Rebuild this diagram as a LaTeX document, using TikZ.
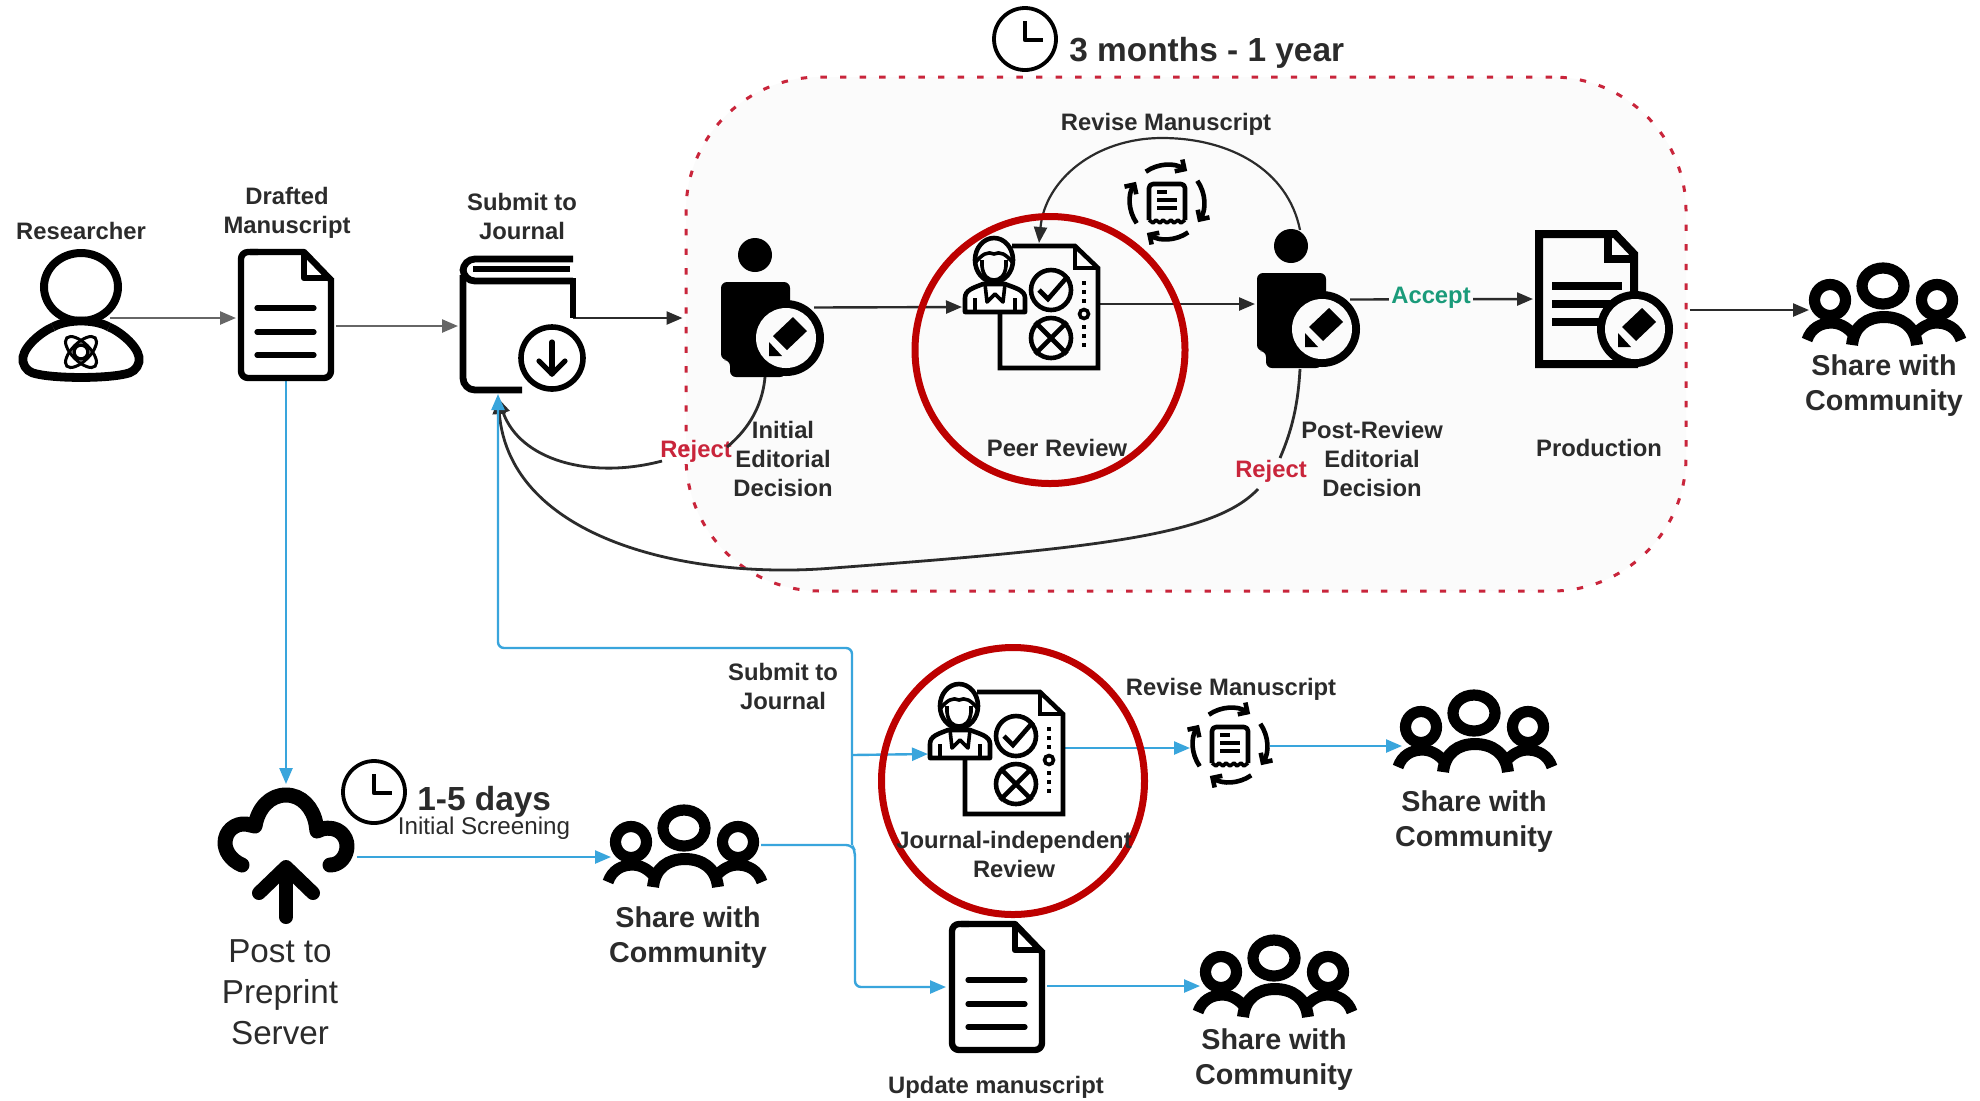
\documentclass[tikz,border=0pt]{standalone}
\usepackage{fontspec}
\setmainfont{Liberation Sans}
\usetikzlibrary{arrows.meta,calc,shapes.geometric}
\definecolor{ink}{HTML}{2B2B2B}
\definecolor{bluel}{HTML}{39A5DC}
\definecolor{reddash}{HTML}{C9253B}
\definecolor{redring}{HTML}{BD0000}
\definecolor{panel}{HTML}{FBFBFB}
\definecolor{greenl}{HTML}{1A9B7A}
\definecolor{arrgray}{HTML}{666666}
\tikzset{
  iconbox/.style 2 args={rectangle,inner sep=0pt,outer sep=0pt,minimum width=#1*0.5pt,minimum height=#2*0.5pt},
  lbl/.style={font=\fontsize{11.9}{14.5}\selectfont\bfseries,align=center,text=ink,inner sep=0pt},
  sharelbl/.style={font=\fontsize{14.35}{17.5}\selectfont\bfseries,align=center,text=ink,inner sep=0pt},
  bigtime/.style={font=\fontsize{16.7}{20}\selectfont\bfseries,text=ink,inner sep=0pt},
  tip/.style={-{Triangle[length=8pt,width=6.5pt]}},
  graylink/.style={tip,draw=arrgray,fill=arrgray,line width=1.2pt},
  darklink/.style={tip,draw=ink,line width=1.2pt},
  thinlink/.style={draw=ink,line width=1.4pt},
  bluelink/.style={tip,draw=bluel,line width=1.2pt,rounded corners=3pt},
  ring/.style={ellipse,draw=redring,line width=3.5pt,inner sep=0pt},
  community/.pic={
    \draw[line width=5.6pt] (0,21) ellipse[x radius=21,y radius=18];
    \draw[line width=5.6pt] (-53,35) circle[radius=15.5];
    \draw[line width=5.6pt] (54,35) circle[radius=15.5];
    \draw[line width=6pt] (-31,80) .. controls (-29,61) and (-16,52) .. (1,52) .. controls (18,52) and (32,61) .. (34,80);
    \draw[line width=5.6pt] (-76,75) .. controls (-72,63) and (-62,58) .. (-52,58) .. controls (-44,58) and (-37,61) .. (-29,70);
    \draw[line width=5.6pt] (78,75) .. controls (74,63) and (64,58) .. (54,58) .. controls (46,58) and (39,61) .. (31,70);
  },
  docicon/.pic={
    \draw[line width=3.2pt,line join=round] (12,3) -- (66,3) -- (93,31);
    \draw[line width=3.2pt,line join=round,rounded corners=3.5pt] (93,29) -- (93,129) -- (3,129) -- (3,3) -- (20,3);
    \draw[line width=3.2pt,line join=round] (66,3) -- (66,29) -- (93,29);
    \foreach \yy in {59,83,106} {\draw[line width=2.6pt,line cap=round] (19,\yy) -- (76,\yy);}
  },
  bookicon/.pic={
    \draw[line width=3.4pt,rounded corners=6pt] (113,4) -- (3,4) -- (3,26) -- (113,26);
    \draw[line width=3.4pt] (112,26) -- (113,26) -- (113,63);
    \draw[line width=3.4pt,rounded corners=6pt] (3,20) -- (3,135) -- (62,135);
    \draw[line width=2.6pt] (13,14) -- (110,14);
    \draw[line width=2.8pt] (92,103) circle[radius=31];
    \draw[line width=2.6pt,line cap=round] (92,87) -- (92,119);
    \draw[line width=2.6pt,line cap=round,line join=round] (79,106) -- (92,119) -- (105,106);
  },
  researchericon/.pic={
    \draw[line width=4pt] (0,0) ellipse[x radius=37,y radius=34];
    \draw[line width=4.4pt,rounded corners=6pt] (-28,40) .. controls (-38,44) and (-56,58) .. (-60,82) .. controls (-30,92) and (30,92) .. (60,82) .. controls (56,58) and (38,44) .. (28,40);
    \draw[line width=4.4pt] (-28,40) .. controls (-14,32) and (14,32) .. (28,40);
    \draw[line width=1.5pt,rotate around={45:(0,65)}] (0,65) ellipse[x radius=20,y radius=9];
    \draw[line width=1.5pt,rotate around={-45:(0,65)}] (0,65) ellipse[x radius=20,y radius=9];
    \draw[line width=1.7pt] (0,65) circle[radius=7];
  },
  pencilmark/.pic={
    \fill (7,-21) -- (21,-7) -- (1,12) -- (-13,-2) -- cycle;
    \fill (-17,4) -- (-4,18) -- (-17,18) -- cycle;
  },
  editoricon/.pic={
    \fill (-31,-83) circle[radius=17];
    \fill[rounded corners=3pt] (-65,22) -- (-65,-56) -- (4,-56) -- (4,-10) -- (0,39) -- (-56,39) -- (-56,22) -- cycle;
    \fill (0,0) circle[radius=38];
    \fill[panel] (0,0) circle[radius=30];
    \pic {pencilmark};
  },
  reviewicon/.pic={
    \draw[line width=2.3pt,line join=miter] (12,0) -- (75,0) -- (98,22) -- (98,122) -- (0,122) -- (0,66);
    \draw[line width=2.3pt] (75,0) -- (75,22) -- (98,22);
    \draw[line width=2.3pt] (-6,14) ellipse[x radius=19,y radius=22];
    \draw[line width=1.8pt] (-25,17) .. controls (-18,8) and (-12,5) .. (-6,8) .. controls (0,5) and (6,8) .. (13,17);
    \draw[line width=1.8pt] (-18,14) -- (-18,20) .. controls (-17,30) and (-12,34) .. (-6,34) .. controls (0,34) and (5,30) .. (6,20) -- (6,14);
    \draw[line width=2.3pt,fill=white,line join=round] (-35,66) -- (-35,52) .. controls (-35,44) and (-27,42) .. (-17,38) -- (5,38) .. controls (15,42) and (25,44) .. (25,52) -- (25,66) -- cycle;
    \draw[line width=1.8pt,line join=round] (-25,66) -- (-25,52) (15,66) -- (15,52) (-15,38) -- (-13,56) -- (-5,48) -- (3,56) -- (5,38);
    \draw[line width=2.3pt] (51,44) circle[radius=20];
    \draw[line width=2.3pt,line join=miter] (39,44) -- (48,53) -- (68,30);
    \draw[line width=2.3pt] (51,92) circle[radius=20];
    \draw[line width=2.3pt] (35,76) -- (67,108) (67,76) -- (35,108);
    \foreach \yy in {37,46,55,81,90,99} {\fill (82,\yy-2) rectangle (86,\yy+2);}
    \draw[line width=1.8pt] (84,68) circle[radius=4.5];
  },
  reviseicon/.pic={
    \foreach \aa in {-125,-35,55,145} {
      \draw[line width=2.3pt,-{Straight Barb[length=3.5pt,width=7pt]}] (\aa:37) arc[start angle=\aa,delta angle=68,radius=37];
    }
    \draw[line width=2.3pt,line join=round,rounded corners=2pt] (-18,18) -- (-18,-18) -- (18,-18) -- (18,18);
    \draw[line width=1.8pt,line join=round] (-18,18) -- (-14,21) -- (-11,18) -- (-7,21) -- (-4,18) -- (0,21) -- (4,18) -- (7,21) -- (11,18) -- (14,21) -- (18,18);
    \draw[line width=1.8pt] (-10,-10) -- (0,-10) (-10,-2) -- (10,-2) (-10,6) -- (10,6);
  },
  clockicon/.pic={
    \draw[line width=1.9pt] (0,0) circle[radius=31];
    \draw[line width=2.1pt,line join=round] (0,-18) -- (0,1) -- (18,1);
  },
  prodicon/.pic={
    \draw[line width=4pt,line join=miter] (4,134) -- (4,4) -- (80,4) -- (99,24) -- (99,134) -- cycle;
    \draw[line width=4pt] (73,4) -- (73,29) -- (99,29);
    \foreach \yy in {56,74,92} {\draw[line width=4pt] (17,\yy) -- (87,\yy);}
    \fill (100,99) circle[radius=38];
    \fill[panel] (100,99) circle[radius=30];
    \pic at (100,99) {pencilmark};
  },
  cloudicon/.pic={
    \draw[line width=7.5pt,line cap=round,line join=round] (24,77) .. controls (12,72) and (7,62) .. (7,55) .. controls (7,43) and (17,35) .. (28,36) -- (37,38) .. controls (40,20) and (52,7) .. (68,7) .. controls (84,7) and (95,20) .. (98,36) -- (99,43) -- (104,41) .. controls (120,37) and (129,48) .. (129,58) .. controls (129,68) and (122,77) .. (112,77);
    \draw[line width=7pt,line cap=round,line join=round] (68,129) -- (68,80);
    \draw[line width=7pt,line cap=round,line join=round] (41,105) -- (68,79) -- (95,105);
  },
}
\begin{document}
\begin{tikzpicture}[x=0.5pt,y=-0.5pt]
\useasboundingbox (0,0) rectangle (1980,1100);
\fill[white] (0,0) rectangle (1980,1100);

% panel
\node[rectangle,draw=reddash,fill=panel,line width=1.5pt,dash pattern=on 3.2pt off 6.6pt,rounded corners=67pt,minimum width=500pt,minimum height=257pt,inner sep=0pt] (group) at (1186,334) {};

% icon boxes
\node[iconbox={122}{126}] (researcher) at (81,314) {};
\node[iconbox={96}{132}] (doca) at (286,315) {};
\node[iconbox={126}{137}] (book) at (523,323.5) {};
\node[iconbox={104}{139}] (editora) at (772,307.5) {};
\node[iconbox={132}{132}] (peera) at (1031,303) {};
\node[iconbox={104}{139}] (editorb) at (1309,299.5) {};
\node[iconbox={138}{138}] (prod) at (1604,299) {};
\node[iconbox={160}{80}] (comma) at (1884,305) {};
\node[iconbox={136}{136}] (cloud) at (286,856) {};
\node[iconbox={160}{80}] (commb) at (684,847) {};
\node[iconbox={133}{132}] (peerb) at (996.5,748) {};
\node[iconbox={76}{76}] (revisea) at (1167,202) {};
\node[iconbox={76}{76}] (reviseb) at (1230,745) {};
\node[iconbox={160}{80}] (commc) at (1474,732) {};
\node[iconbox={160}{80}] (commd) at (1274,977) {};
\node[iconbox={96}{132}] (docb) at (997,987) {};
\coordinate (jct) at (852,845);
\coordinate (jctup) at (852,755);
\coordinate (corner) at (852,648);
\coordinate (cornerb) at (498,648);
\coordinate (cornerc) at (855,851);
\coordinate (cornerd) at (855,987);

% labels that interrupt curves
\node[font=\fontsize{11.9}{14.5}\selectfont\bfseries,text=reddash,inner sep=0pt] (rejecta) at (696,451) {Reject};
\node[font=\fontsize{11.9}{14.5}\selectfont\bfseries,text=reddash,inner sep=0pt] (rejectb) at (1271,471) {Reject};

% black curves
\draw[thinlink] ($(editora.south)+(-7,0)$) .. controls (762,410) and (745,432) .. (727,447);
\draw[thinlink,tip] (662,461) .. controls (590,480) and (520,460) .. ($(book.south)+(-25,6)$);
\draw[thinlink] ($(editorb.south)+(-9,0)$) .. controls (1298,405) and (1292,430) .. (1280,458);
\draw[thinlink,tip] (1258,489) .. controls (1215,535) and (1100,548) .. (833,568) .. controls (690,580) and (510,540) .. ($(book.south)+(-25,6)$);
\draw[thinlink,line width=1.1pt,tip] ($(editorb.north)+(-9,0)$) .. controls (1288,170) and (1230,138) .. (1162,138) .. controls (1095,138) and (1045,180) .. ($(peera.north)+(8,6)$);

% top-row links
\draw[graylink] ($(researcher.center)+(29,4)$) -- ($(doca.west)+(-2,3)$);
\draw[graylink] ($(doca.east)+(2,11)$) -- ($(book.west)+(-2,2.5)$);
\draw[darklink] ($(book.center)+(50,-5.5)$) -- ($(group.west)+(-2,-16)$);
\draw[darklink] ($(editora.center)+(42,0)$) -- ($(peera.west)+(-3,4)$);
\draw[darklink] ($(peera.east)+(0,1)$) -- ($(editorb.west)+(-2,4.5)$);
\draw[darklink] ($(editorb.east)+(-11,0)$) -- ($(prod.west)+(-2,0)$);
\draw[darklink] ($(group.east)+(2,-24)$) -- ($(comma.west)+(5,5)$);

% blue links
\draw[bluelink] (jct) -- (corner) -- (cornerb) -- ($(book.south)+(-25,2)$);
\draw[bluelink] ($(commb.east)+(-3,-2)$) -- (jct) -- (cornerc) -- (cornerd) -- ($(docb.west)+(-3,0)$);
\draw[bluelink] (jctup) -- ($(peerb.west)+(-2,6)$);
\draw[bluelink] (doca.south) -- ($(cloud.north)+(0,-4)$);
\draw[bluelink] ($(cloud.east)+(3,1)$) -- ($(commb.west)+(7,10)$);
\draw[bluelink] (peerb.east) -- ($(reviseb.west)+(-2,3)$);
\draw[bluelink] ($(reviseb.east)+(2,1)$) -- ($(commc.west)+(8,14)$);
\draw[bluelink] ($(docb.east)+(2,-1)$) -- ($(commd.west)+(6,9)$);

% icons
\pic at (81,287) {researchericon};
\pic at (238,249) {docicon};
\pic at (460,255) {bookicon};
\pic at (786,338) {editoricon};
\pic at (1000,246) {reviewicon};
\pic at (1322,329) {editoricon};
\pic at (1535,230) {prodicon};
\pic at (1883,265) {community};
\pic at (218,788) {cloudicon};
\pic at (684,807) {community};
\pic at (965,692) {reviewicon};
\pic at (1167,202) {reviseicon};
\pic at (1230,745) {reviseicon};
\pic at (1474,692) {community};
\pic at (1274,937) {community};
\pic at (949,921) {docicon};
\pic at (1025,39) {clockicon};
\pic at (374,792) {clockicon};

% red rings
\node[ring,minimum width=135pt,minimum height=133.5pt] (ringa) at (1050,350) {};
\node[ring,minimum width=131.5pt,minimum height=133.5pt] (ringb) at (1013,781) {};

% text
\node[font=\fontsize{11.9}{14.5}\selectfont\bfseries,text=greenl,fill=panel,inner xsep=1pt,inner ysep=0pt] (accept) at (1431,298) {Accept};
\node[bigtime,anchor=base west] (timea) at (1069,61) {3 months - 1 year};
\node[lbl] (l1) at (81,231) {Researcher};
\node[lbl] (l2) at (287,212.5) {Drafted\\Manuscript};
\node[lbl] (l3) at (522,216) {Submit to\\Journal};
\node[lbl] (l4) at (783,459) {Initial\\Editorial\\Decision};
\node[lbl] (l5) at (1057,448) {Peer Review};
\node[lbl] (l6) at (1372,459) {Post-Review\\Editorial\\Decision};
\node[lbl] (l7) at (1599,448) {Production};
\node[lbl] (l8) at (1166,124.5) {Revise Manuscript};
\node[sharelbl] (l9) at (1884,386) {Share with\\Community};
\node[font=\fontsize{16.6}{20.5}\selectfont,align=center,text=ink,inner sep=0pt] (l10) at (280,992) {Post to\\Preprint\\Server};
\node[bigtime,anchor=base west] (timeb) at (417,810) {1-5 days};
\node[font=\fontsize{12.1}{14}\selectfont,text=ink,inner sep=0pt] (l11) at (484,828.5) {Initial Screening};
\node[sharelbl] (l12) at (688,938) {Share with\\Community};
\node[lbl] (l13) at (783,686) {Submit to\\Journal};
\node[lbl] (l14) at (1014,854) {Journal-independent\\Review};
\node[lbl] (l15) at (1231,689) {Revise Manuscript};
\node[sharelbl] (l16) at (1474,822) {Share with\\Community};
\node[sharelbl] (l17) at (1274,1060) {Share with\\Community};
\node[lbl] (l18) at (996,1087) {Update manuscript};
\end{tikzpicture}
\end{document}
